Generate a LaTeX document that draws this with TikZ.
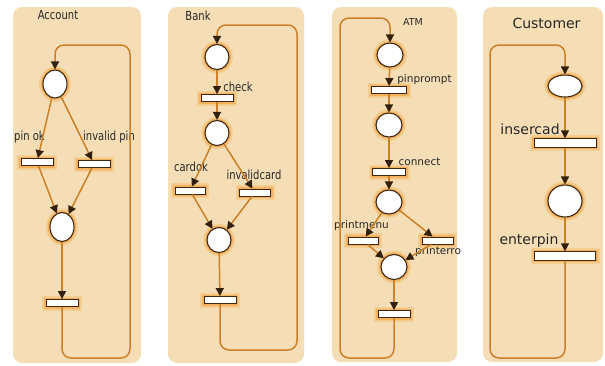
\documentclass[tikz,border=0pt]{standalone}
\usepackage{fontspec}
\setmainfont{DejaVu Sans}
\newfontfamily\narrowfont[FakeStretch=0.8]{DejaVu Sans}
\usetikzlibrary{arrows.meta,shapes.geometric}
\definecolor{panelc}{RGB}{245,222,181}
\definecolor{linec}{RGB}{204,128,40}
\definecolor{nodeb}{RGB}{62,40,18}
\definecolor{tipc}{RGB}{50,32,12}
\definecolor{glowc}{RGB}{242,145,30}
\definecolor{textc}{RGB}{40,40,40}
\begin{document}
\begin{tikzpicture}[x=1pt,y=-1pt,
  panel/.style={fill=panelc, draw=none, rounded corners=9pt},
  halo/.style={preaction={draw=glowc, line width=8pt, draw opacity=0.22},
               preaction={draw=glowc, line width=4pt, draw opacity=0.45}},
  place/.style={ellipse, draw=nodeb, fill=white, line width=1.1pt, inner sep=0pt, halo},
  trans/.style={rectangle, draw=nodeb, fill=white, line width=0.9pt, inner sep=0pt, minimum height=7pt, halo},
  arc/.style={draw=linec, line width=1.5pt, -{Triangle[length=8pt,width=8pt,color=tipc]}},
  loopc/.style={arc, rounded corners=9pt},
  nlab/.style={text=textc, inner sep=0pt, font=\narrowfont\fontsize{12.5}{14}\selectfont},
  alab/.style={text=textc, inner sep=0pt, font=\fontsize{10.5}{12}\selectfont},
  clab/.style={text=textc, inner sep=0pt, font=\fontsize{14}{16}\selectfont}]
\useasboundingbox (0,0) rectangle (605,365);
% panels
\fill[panel] (13,7) rectangle (141,363);
\fill[panel] (168,7) rectangle (304,363);
\fill[panel] (332,7) rectangle (457,362);
\fill[panel] (483,7) rectangle (603,362);

% ---------- Account ----------
\node[nlab] (atitle) at (58,15) {Account};
\node[place, minimum width=24pt, minimum height=28pt] (a1) at (55,84) {};
\node[trans, minimum width=32pt] (a2) at (37,162) {};
\node[trans, minimum width=32pt] (a3) at (94,164) {};
\node[place, minimum width=24pt, minimum height=29pt] (a4) at (62,227) {};
\node[trans, minimum width=32pt] (a5) at (62,303) {};
\node[nlab] (la2) at (29.5,137) {pin ok};
\node[nlab] (la3) at (109,137) {invalid pin};
\coordinate (aBR) at (130,358);
\coordinate (aTR) at (130,45);
\draw[arc] (a1) -- (a2);
\draw[arc] (a1) -- (a3);
\draw[arc] (a2) -- (a4);
\draw[arc] (a3) -- (a4);
\draw[arc] (a4) -- (a5);
\draw[loopc] (a5) |- (aBR) -- (aTR) -| (a1);

% ---------- Bank ----------
\node[nlab] (btitle) at (198,16) {Bank};
\node[place, minimum width=24pt, minimum height=25pt] (b1) at (217,57) {};
\node[trans, minimum width=32pt] (b2) at (217,98) {};
\node[place, minimum width=24pt, minimum height=25pt] (b3) at (217,133) {};
\node[trans, minimum width=30pt] (b4) at (190,190.5) {};
\node[trans, minimum width=31pt] (b5) at (255,192.5) {};
\node[place, minimum width=24pt, minimum height=25pt] (b6) at (219,240) {};
\node[trans, minimum width=32pt] (b7) at (220,300) {};
\node[nlab] (lb2) at (238,87) {check};
\node[nlab] (lb4) at (191,167) {cardok};
\node[nlab] (lb5) at (254,175) {invalidcard};
\coordinate (bBR) at (297,350);
\coordinate (bTR) at (297,25);
\draw[arc] (b1) -- (b2);
\draw[arc] (b2) -- (b3);
\draw[arc] (b3) -- (b4);
\draw[arc] (b3) -- (b5);
\draw[arc] (b4) -- (b6);
\draw[arc] (b5) -- (b6);
\draw[arc] (b6) -- (b7);
\draw[loopc] (b7) |- (bBR) -- (bTR) -| (b1);

% ---------- ATM ----------
\node[text=textc, inner sep=0pt, font=\fontsize{9.5}{11}\selectfont] (mtitle) at (413,22) {ATM};
\node[place, minimum width=26pt, minimum height=24pt] (m1) at (390,55) {};
\node[trans, minimum width=35pt] (m2) at (389,90) {};
\node[place, minimum width=26pt, minimum height=24pt] (m3) at (389,125) {};
\node[trans, minimum width=33pt] (m4) at (389,172) {};
\node[place, minimum width=26pt, minimum height=24pt] (m5) at (389,202) {};
\node[trans, minimum width=30pt] (m6) at (363,240.5) {};
\node[trans, minimum width=31pt] (m7) at (437.5,240.5) {};
\node[place, minimum width=26pt, minimum height=25pt] (m8) at (394,267) {};
\node[trans, minimum width=32pt] (m9) at (394,314) {};
\node[alab] (lm2) at (424.5,80) {pinprompt};
\node[alab] (lm4) at (419.5,162) {connect};
\node[alab] (lm6) at (361.5,226) {printmenu};
\node[alab, anchor=west] (lm7) at (415,252) {printerro};
\coordinate (mBL) at (340,358);
\coordinate (mTL) at (340,18);
\draw[arc] (m1) -- (m2);
\draw[arc] (m2) -- (m3);
\draw[arc] (m3) -- (m4);
\draw[arc] (m4) -- (m5);
\draw[arc] (m5) -- (m6);
\draw[arc] (m5) -- (m7);
\draw[arc] (m6) -- (m8);
\draw[arc] (m7) -- (m8);
\draw[arc] (m8) -- (m9);
\draw[loopc] (m9) |- (mBL) -- (mTL) -| (m1);

% ---------- Customer ----------
\node[clab] (ctitle) at (546.5,23) {Customer};
\node[place, minimum width=34pt, minimum height=22pt] (c1) at (565,86) {};
\node[trans, minimum width=62pt, minimum height=8.5pt] (c2) at (565,143) {};
\node[place, minimum width=34pt, minimum height=32pt] (c3) at (565,201) {};
\node[trans, minimum width=61pt, minimum height=8.5pt] (c4) at (565,256) {};
\node[clab] (lc2) at (530,129) {insercad};
\node[clab] (lc4) at (529,241) {enterpin};
\coordinate (cBL) at (490,358);
\coordinate (cTL) at (490,45);
\draw[arc] (c1) -- (c2);
\draw[arc] (c2) -- (c3);
\draw[arc] (c3) -- (c4);
\draw[loopc] (c4) |- (cBL) -- (cTL) -| (c1);
\end{tikzpicture}
\end{document}
